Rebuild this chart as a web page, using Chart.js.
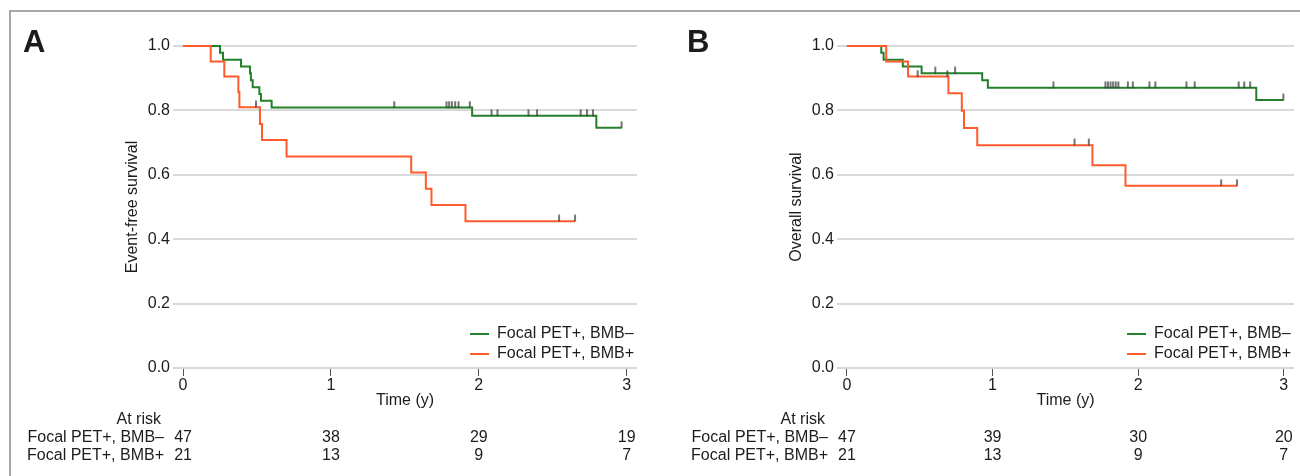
<!DOCTYPE html>
<html>
<head>
<meta charset="utf-8">
<script src="https://cdn.jsdelivr.net/npm/chart.js@4.4.1/dist/chart.umd.min.js"></script>
<style>
  body { margin: 0; width: 1300px; height: 476px; overflow: hidden; background: #fff; position: relative; }
  #frame { position: absolute; left: 9px; top: 10px; width: 1400px; height: 600px; border: 2px solid #a8a8a8; }
  canvas { position: absolute; top: 0; }
  #chartA { left: 0; }
  #chartB { left: 660px; }
</style>
</head>
<body>
<div id="frame"></div>
<canvas id="chartA" width="660" height="476"></canvas>
<canvas id="chartB" width="640" height="476"></canvas>
<script>
// tick labels
var timeTicks = [0, 1, 2, 3];
var survTicks = [0, 0.2, 0.4, 0.6, 0.8, 1.0];
var groupNames = ["Focal PET+, BMB\u2013", "Focal PET+, BMB+"];

// A: event-free survival
var greenTimesA = [0, 0.25, 0.27, 0.392, 0.453, 0.459, 0.471, 0.516, 0.527, 0.599, 1.955, 2.795, 2.966];
var greenSurvA  = [1, 0.979, 0.957, 0.936, 0.915, 0.894, 0.872, 0.851, 0.830, 0.809, 0.783, 0.746, 0.746];
var greenCensA  = [1.428, 1.782, 1.799, 1.818, 1.840, 1.863, 1.939, 2.086, 2.126, 2.336, 2.394, 2.689, 2.732, 2.772, 2.966];
var redTimesA = [0, 0.187, 0.279, 0.374, 0.381, 0.520, 0.534, 0.700, 1.543, 1.642, 1.680, 1.910, 2.651];
var redSurvA  = [1, 0.952, 0.905, 0.857, 0.810, 0.758, 0.708, 0.657, 0.607, 0.557, 0.506, 0.456, 0.456];
var redCensA  = [0.493, 2.543, 2.651];
var atRiskGreenA = [47, 38, 29, 19];
var atRiskRedA   = [21, 13, 9, 7];

// B: overall survival
var greenTimesB = [0, 0.236, 0.252, 0.384, 0.513, 0.929, 0.968, 2.811, 2.997];
var greenSurvB  = [1, 0.979, 0.957, 0.936, 0.915, 0.894, 0.870, 0.832, 0.832];
var greenCensB  = [0.607, 0.743, 1.418, 1.775, 1.792, 1.810, 1.828, 1.846, 1.864, 1.929, 1.963, 2.077, 2.118, 2.331, 2.388, 2.690, 2.728, 2.769, 2.997];
var redTimesB = [0, 0.270, 0.420, 0.697, 0.789, 0.804, 0.895, 1.686, 1.913, 2.679];
var redSurvB  = [1, 0.952, 0.905, 0.853, 0.799, 0.745, 0.692, 0.630, 0.566, 0.566];
var redCensB  = [0.486, 0.690, 1.563, 1.661, 2.570, 2.679];
var atRiskGreenB = [47, 39, 30, 20];
var atRiskRedB   = [21, 13, 9, 7];

var GREEN = "#23802a";
var RED = "#ff5a2c";
var FONT = "'Liberation Sans', Arial, sans-serif";
var TEXT = "#1c1c1c";

Chart.defaults.font.family = FONT;
Chart.defaults.font.size = 16;
Chart.defaults.color = TEXT;

// small upward tick used as censor mark
var censorMark = document.createElement("canvas");
censorMark.width = 4;
censorMark.height = 14;
var cm = censorMark.getContext("2d");
cm.fillStyle = "#3a3a3a";
cm.fillRect(1.3, 0.5, 1.4, 6.8);

function survAt(times, surv, t) {
  var s = surv[0];
  for (var i = 0; i < times.length; i++) {
    if (times[i] <= t) s = surv[i];
  }
  return s;
}

function curve(times, surv, color, order) {
  return {
    data: times.map(function (t, i) { return {x: t, y: surv[i]}; }),
    borderColor: color,
    borderWidth: 2,
    stepped: true,
    pointRadius: 0,
    fill: false,
    clip: false,
    order: order
  };
}

function censors(cens, times, surv) {
  return {
    data: cens.map(function (t) { return {x: t, y: survAt(times, surv, t)}; }),
    showLine: false,
    pointStyle: censorMark,
    pointRadius: 5,
    clip: false,
    order: -1
  };
}

function makePanel(id, p) {
  var decor = {
    id: "decor",
    afterDraw: function (chart) {
      var ctx = chart.ctx;
      var area = chart.chartArea;
      var xs = chart.scales.x;
      ctx.save();
      ctx.fillStyle = TEXT;

      // panel letter
      ctx.font = "bold 31px " + FONT;
      ctx.textAlign = "left";
      ctx.textBaseline = "alphabetic";
      ctx.fillText(p.letter, area.left - 150, 52);

      ctx.font = "16px " + FONT;
      // y title
      ctx.save();
      ctx.translate(area.left - 40, (area.top + area.bottom) / 2);
      ctx.rotate(-Math.PI / 2);
      ctx.textAlign = "center";
      ctx.textBaseline = "middle";
      ctx.fillText(p.yTitle, 0, 0);
      ctx.restore();

      // x title
      ctx.textAlign = "center";
      ctx.textBaseline = "middle";
      ctx.fillText("Time (y)", (area.left + area.right) / 2, 401);

      // at risk table
      ctx.textAlign = "right";
      ctx.fillText("At risk", area.left - 12, 420);
      var rows = [p.riskGreen, p.riskRed];
      for (var r = 0; r < rows.length; r++) {
        var y = 438 + r * 18;
        ctx.textAlign = "right";
        ctx.fillText(groupNames[r], area.left - 9, y);
        ctx.textAlign = "center";
        for (var i = 0; i < timeTicks.length; i++) {
          ctx.fillText(rows[r][i], xs.getPixelForValue(timeTicks[i]), y);
        }
      }

      // legend
      var colors = [GREEN, RED];
      var textW = Math.max(ctx.measureText(groupNames[0]).width, ctx.measureText(groupNames[1]).width);
      var tx = area.right - 3 - textW;
      for (var k = 0; k < 2; k++) {
        var ly = area.bottom - 34 + k * 20;
        ctx.strokeStyle = colors[k];
        ctx.lineWidth = 2;
        ctx.beginPath();
        ctx.moveTo(tx - 27, ly);
        ctx.lineTo(tx - 8, ly);
        ctx.stroke();
        ctx.textAlign = "left";
        ctx.fillText(groupNames[k], tx, ly);
      }
      ctx.restore();
    }
  };

  return new Chart(id, {
    type: "line",
    data: {
      datasets: [
        curve(p.redT, p.redS, RED, 0),
        curve(p.greenT, p.greenS, GREEN, 1),
        censors(p.redC, p.redT, p.redS),
        censors(p.greenC, p.greenT, p.greenS)
      ]
    },
    options: {
      responsive: false,
      animation: false,
      layout: {padding: {top: 46, right: p.padRight, bottom: 0, left: 0}},
      plugins: {legend: {display: false}, tooltip: {enabled: false}},
      scales: {
        x: {
          type: "linear",
          min: -0.068,
          max: 3.07,
          afterFit: function (s) { s.height = 108; },
          afterBuildTicks: function (s) { s.ticks = timeTicks.map(function (v) { return {value: v}; }); },
          grid: {drawOnChartArea: false, tickLength: 8, tickColor: "#555", tickWidth: 1},
          border: {display: false},
          ticks: {padding: 0, maxRotation: 0, color: TEXT}
        },
        y: {
          min: 0,
          max: 1,
          afterFit: function (s) { s.width = p.axisWidth; },
          afterBuildTicks: function (s) { s.ticks = survTicks.map(function (v) { return {value: v}; }); },
          grid: {color: "#d9d9d9", lineWidth: 2, drawTicks: false},
          border: {display: false},
          ticks: {padding: 3, color: TEXT, callback: function (v) { return v.toFixed(1); }}
        }
      }
    },
    plugins: [decor]
  });
}

makePanel("chartA", {
  letter: "A", yTitle: "Event-free survival", axisWidth: 173, padRight: 23,
  greenT: greenTimesA, greenS: greenSurvA, greenC: greenCensA,
  redT: redTimesA, redS: redSurvA, redC: redCensA,
  riskGreen: atRiskGreenA, riskRed: atRiskRedA
});

makePanel("chartB", {
  letter: "B", yTitle: "Overall survival", axisWidth: 177, padRight: 2.4,
  greenT: greenTimesB, greenS: greenSurvB, greenC: greenCensB,
  redT: redTimesB, redS: redSurvB, redC: redCensB,
  riskGreen: atRiskGreenB, riskRed: atRiskRedB
});
</script>
</body>
</html>
